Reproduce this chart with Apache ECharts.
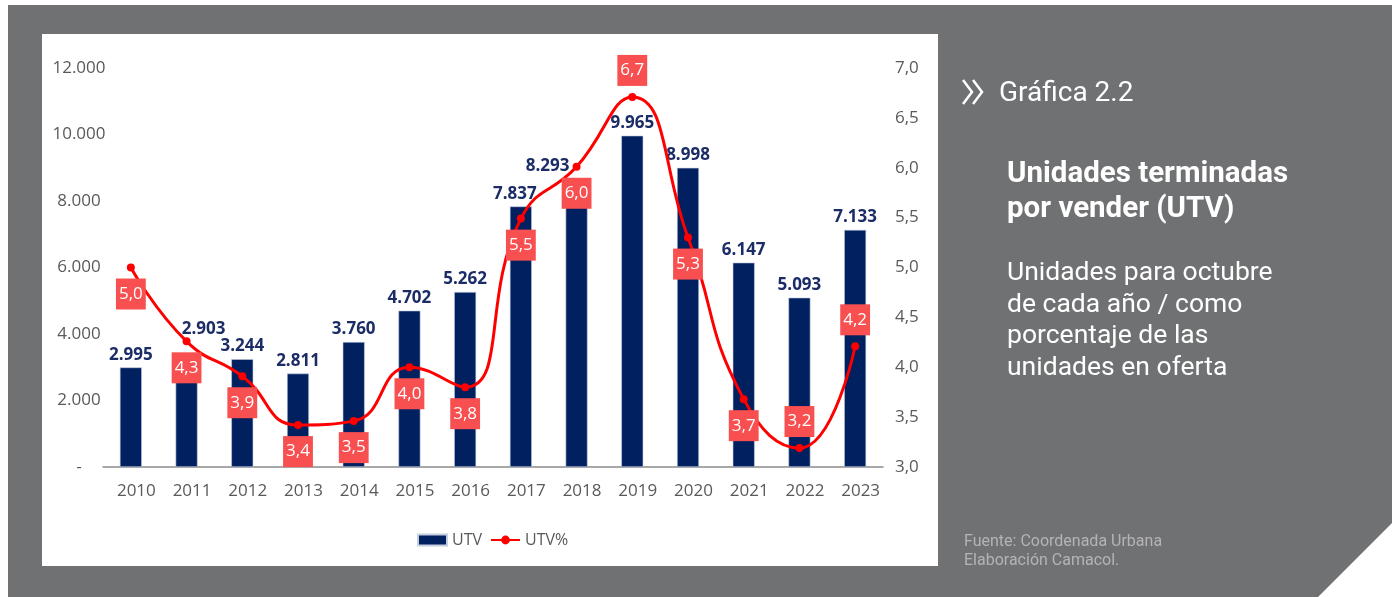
<!DOCTYPE html>
<html>
<head>
<meta charset="utf-8">
<title>Gráfica 2.2 - UTV</title>
<script src="https://cdn.jsdelivr.net/npm/echarts@6/dist/echarts.min.js"></script>
<style>
  html, body { margin: 0; padding: 0; background: #fff; }
  #chart { width: 1392px; height: 597px; }
</style>
</head>
<body>
<div id="chart"></div>
<script>
// datos
var years = ['2010', '2011', '2012', '2013', '2014', '2015', '2016', '2017', '2018', '2019', '2020', '2021', '2022', '2023'];
var utv = [2995, 2903, 3244, 2811, 3760, 4702, 5262, 7837, 8293, 9965, 8998, 6147, 5093, 7133];
var utvPct = [5.0, 4.26, 3.91, 3.42, 3.46, 4.0, 3.8, 5.49, 6.01, 6.71, 5.3, 3.68, 3.19, 4.21];
var leftTicks = { min: 0, max: 12000, interval: 2000 };
var rightTicks = { min: 3, max: 7, interval: 0.5 };

// etiquetas del % que van encima del punto
var labelsArriba = ['2019', '2022', '2023'];
// etiquetas de barras movidas a mano (para no chocar con la linea)
var offsetBarras = { '2011': [17, -29], '2017': [-6, 0], '2018': [-29, -13] };

var gris = '#707173';
var azul = '#002060';
var fuente = '"Open Sans", "DejaVu Sans", sans-serif';

function miles(v) {
  return String(v).replace(/\B(?=(\d{3})+(?!\d))/g, '.');
}

var chartInstance = echarts.init(document.getElementById('chart'));

var initOption = {
  backgroundColor: '#fff',
  animation: false,
  textStyle: { fontFamily: fuente },
  graphic: [
    // fondo gris con la esquina cortada
    {
      type: 'polygon', z: -10, silent: true,
      shape: { points: [[8, 5], [1392, 5], [1392, 523], [1318, 597], [8, 597]] },
      style: { fill: gris }
    },
    // panel blanco de la grafica
    {
      type: 'rect', z: -9, silent: true,
      shape: { x: 42, y: 34, width: 896, height: 532 },
      style: { fill: '#fff' }
    },
    // icono >>
    {
      type: 'polyline', silent: true,
      shape: { points: [[963, 80], [972, 92], [963, 104]] },
      style: { stroke: '#fff', lineWidth: 2.5, fill: null }
    },
    {
      type: 'polyline', silent: true,
      shape: { points: [[973, 80], [982, 92], [973, 104]] },
      style: { stroke: '#fff', lineWidth: 2.5, fill: null }
    },
    {
      type: 'text', silent: true, x: 999, y: 94,
      style: {
        text: 'Gráfica 2.2', fill: '#fff',
        font: '28px Roboto, sans-serif', verticalAlign: 'middle'
      }
    },
    {
      type: 'text', silent: true, x: 1007, y: 157,
      style: {
        text: 'Unidades terminadas\npor vender (UTV)', fill: '#fff',
        font: 'bold 29.5px Roboto, sans-serif', lineHeight: 35, verticalAlign: 'top'
      }
    },
    {
      type: 'text', silent: true, x: 1007, y: 258,
      style: {
        text: 'Unidades para octubre\nde cada año / como\nporcentaje de las\nunidades en oferta',
        fill: '#fff', font: '26.5px Roboto, sans-serif', lineHeight: 31.5, verticalAlign: 'top'
      }
    },
    {
      type: 'text', silent: true, x: 964, y: 532,
      style: {
        text: 'Fuente: Coordenada Urbana\nElaboración Camacol.',
        fill: '#b4b4b7', font: '16px Roboto, sans-serif', lineHeight: 19, verticalAlign: 'top'
      }
    }
  ],
  legend: {
    data: [{ name: 'UTV', icon: 'rect' }, { name: 'UTV%' }],
    left: 412,
    top: 527,
    itemWidth: 29,
    itemHeight: 11,
    itemGap: 8,
    textStyle: { color: '#595959', fontSize: 16, fontFamily: fuente }
  },
  grid: {
    left: 103,
    right: 509,
    top: 68,
    bottom: 130
  },
  xAxis: [{
    type: 'category',
    data: years,
    boundaryGap: true,
    axisLine: { show: true, lineStyle: { color: '#8c8c8c', width: 1.5 } },
    axisTick: { show: false },
    axisLabel: {
      color: '#595959', fontSize: 17, margin: 16,
      padding: [0, 0, 0, 11]
    }
  }],
  yAxis: [{
    type: 'value',
    min: leftTicks.min, max: leftTicks.max, interval: leftTicks.interval,
    axisLine: { show: false },
    axisTick: { show: false },
    splitLine: { show: false },
    axisLabel: {
      color: '#595959', fontSize: 17, margin: 24, align: 'center',
      formatter: function (v) {
        return v === 0 ? '-' : miles(v);
      }
    }
  }, {
    type: 'value',
    position: 'right',
    min: rightTicks.min, max: rightTicks.max, interval: rightTicks.interval,
    axisLine: { show: false },
    axisTick: { show: false },
    splitLine: { show: false },
    axisLabel: {
      color: '#595959', fontSize: 17, margin: 12, align: 'left',
      formatter: function (v) {
        return v.toFixed(1).replace('.', ',');
      }
    }
  }],
  series: [{
    name: 'UTV',
    type: 'bar',
    yAxisIndex: 0,
    barWidth: 22,
    itemStyle: { color: azul, borderColor: '#c5cde0', borderWidth: 0.6 },
    label: {
      show: true,
      position: 'top',
      distance: 4,
      color: '#1c2c66',
      fontWeight: 'bold',
      fontSize: 17,
      fontFamily: fuente,
      formatter: function (p) { return miles(p.value); }
    },
    data: utv.map(function (v, i) {
      var off = offsetBarras[years[i]];
      return off ? { value: v, label: { offset: off } } : v;
    })
  }, {
    name: 'UTV%',
    type: 'line',
    yAxisIndex: 1,
    smooth: true,
    symbol: 'circle',
    symbolSize: 8,
    z: 5,
    lineStyle: { color: '#ff0000', width: 3 },
    itemStyle: { color: '#ff0000' },
    label: {
      show: true,
      distance: 7,
      color: '#fff',
      fontSize: 17,
      fontFamily: fuente,
      backgroundColor: '#f85050',
      padding: [6, 3, 6, 3],
      lineHeight: 19,
      formatter: function (p) { return p.value.toFixed(1).replace('.', ','); }
    },
    data: utvPct.map(function (v, i) {
      return {
        value: v,
        label: { position: labelsArriba.indexOf(years[i]) >= 0 ? 'top' : 'bottom' }
      };
    })
  }]
};

chartInstance.setOption(initOption);
</script>
</body>
</html>
